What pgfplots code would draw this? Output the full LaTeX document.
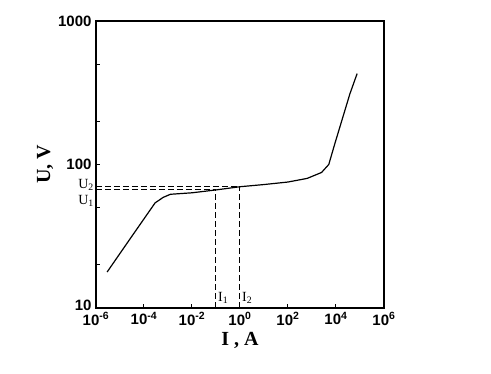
\documentclass[border=0pt]{standalone}
\usepackage{fontspec}
\setmainfont{Liberation Serif}
\setsansfont{Liberation Sans}
\usepackage{pgfplots}
\pgfplotsset{compat=1.18}
\begin{document}
\begin{tikzpicture}[x=1pt,y=1pt]
\useasboundingbox (-96,-66) rectangle (395,308);
\begin{axis}[
  at={(0,0)}, anchor=south west,
  scale only axis, width=288pt, height=287pt,
  xmode=log, ymode=log,
  xmin=1e-6, xmax=1e6, ymin=10, ymax=1000,
  axis line style={line width=1.3pt},
  xtick={1e-6,1e-4,1e-2,1,1e2,1e4,1e6},
  xticklabels={10\textsuperscript{-6},10\textsuperscript{-4},10\textsuperscript{-2},10\textsuperscript{0},10\textsuperscript{2},10\textsuperscript{4},10\textsuperscript{6}},
  ytick={10,100,1000},
  yticklabels={\raisebox{6pt}{10},100,1000},
  minor ytick={20,50,200,500},
  minor xtick={},
  tick align=inside,
  major tick length=4pt, minor tick length=4pt,
  tick style={line width=1pt, black},
  xtick pos=bottom, ytick pos=left,
  ticklabel style={font=\sffamily\bfseries\fontsize{15}{17}\selectfont},
  /pgf/number format/assume math mode=true,
  xticklabel style={yshift=-1pt},
  yticklabel style={xshift=-1pt},
  xlabel={\bfseries I , A},
  ylabel={\bfseries U, V},
  label style={font=\rmfamily\fontsize{20}{22}\selectfont},
  xlabel style={yshift=0pt},
  ylabel style={yshift=-2pt},
  clip=false,
]
\addplot[black, line width=1.2pt] coordinates {
  (2.9e-6,17.8) (3.2e-5,31.8) (2.9e-4,54) (6.3e-4,59) (1.26e-3,62)
  (1e-2,63.5) (1e-1,66.5) (1,70) (10,72.5) (100,75.5) (630,80)
  (2500,88) (5000,100) (9100,141) (38000,311) (76000,430)
};
\addplot[black, line width=1pt, dash pattern=on 6pt off 3pt] coordinates {(1e-6,70) (1,70)};
\addplot[black, line width=1pt, dash pattern=on 6pt off 3pt] coordinates {(1e-6,67) (1e-1,67)};
\addplot[black, line width=1pt, dash pattern=on 6pt off 3pt] coordinates {(1e-1,10) (1e-1,67)};
\addplot[black, line width=1pt, dash pattern=on 6pt off 3pt] coordinates {(1,10) (1,70)};
\node[anchor=east, font=\rmfamily\fontsize{14}{16}\selectfont, inner sep=2pt] at (axis cs:1e-6,72) {U\textsubscript{2}};
\node[anchor=east, font=\rmfamily\fontsize{14}{16}\selectfont, inner sep=2pt] at (axis cs:1e-6,56) {U\textsubscript{1}};
\node[anchor=west, font=\rmfamily\fontsize{14}{16}\selectfont, inner sep=2pt] at (axis cs:1e-1,11.8) {I\textsubscript{1}};
\node[anchor=west, font=\rmfamily\fontsize{14}{16}\selectfont, inner sep=2pt] at (axis cs:1,11.8) {I\textsubscript{2}};
\end{axis}
\end{tikzpicture}
\end{document}
